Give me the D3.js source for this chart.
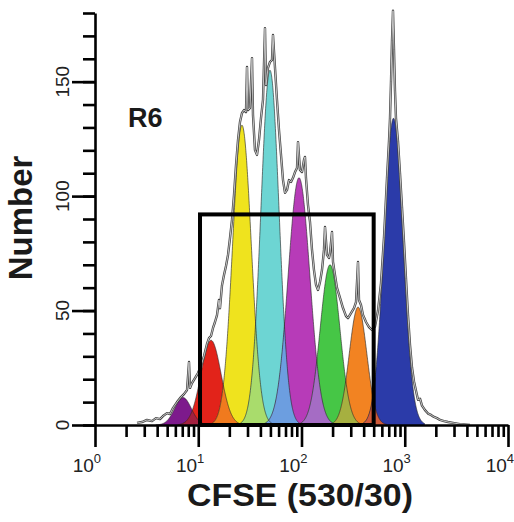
<!DOCTYPE html>
<html><head><meta charset="utf-8">
<script src="https://cdn.jsdelivr.net/npm/d3@7"></script>
<style>
body{margin:0;background:#fff}
svg{display:block}
text{font-family:Arial,"Liberation Sans",Helvetica,sans-serif}
</style>
</head><body>
<svg id="c" width="514" height="522"></svg>
<script>
// ---- data ----
const peakLabels  = ["G7","G6","G5","G4","G3","G2","G1","G0"];
const peakCenters = [7.12, 13.3, 26.5, 49.5, 94.6, 189, 353, 778];   // CFSE
const peakHeights = [12, 37, 131, 155, 108, 70, 51.5, 134];          // Number
const peakWidths  = [0.08, 0.097, 0.09, 0.088, 0.105, 0.095, 0.085, 0.092]; // sigma (log10 units)

const envX = [2.552,2.852,3.189,3.565,3.898,4.262,4.557,4.982,5.327,5.693,6.226,6.807,7.277,7.783,8.138,8.322,8.701,9.301,9.944,
  10.63,11.37,12.15,12.71,13.29,13.90,14.53,15.19,15.88,16.24,16.98,17.76,18.57,19.42,20.30,21.23,22.20,23.21,24.27,25.37,26.53,
  27.74,29.00,29.66,30.32,31.71,33.16,33.90,35.44,37.06,38.75,40.52,42.37,44.30,45.30,47.37,49.53,51.79,52.96,55.38,57.90,60.54,
  63.31,66.20,69.22,72.38,75.68,79.14,82.75,86.53,90.48,92.52,96.7,101.1,105.7,108.1,110.5,115.6,120.9,126.4,132.1,138.2,144.5,
  151.1,157.9,165.1,168.9,176.6,184.6,188.8,197.4,201.9,211.1,220.7,236.0,252.3,269.8,282.1,301.6,322.5,337.2,352.6,360.5,376.9,
  394.1,421.4,450.6,481.8,515.1,550.8,588.9,629.6,673.2,703.9,719.7,735.9,752.5,769.4,786.7,804.4,822.5,860.0,899.5,940.7,983.4,
  1028,1075,1124,1176,1229,1285,1344,1405,1469,1571,1680,1796,1920,2053,2195,2400,2624,2934,3429,4285];
const envY = [0.9,1.3,2.2,1.7,3,2.6,3.9,5.2,4.8,7.4,10,12.2,13.5,15.3,27.5,16.2,18.3,20.5,22.7,
  25.8,30.1,35.4,38,38.9,42.4,45,48,54.6,51,61,65.5,69.5,74.3,81.7,89.6,100.5,113.6,124.5,132.4,136.3,
  137.6,136.7,156.4,137.6,138.5,160.3,135.4,120.1,118,124.5,134.1,142,173.4,148.5,156,158.6,159.5,170.4,156,142,128.9,
  118,107,101.4,102.7,107,106.2,108,110.5,112.3,123.6,111.4,110.5,115.8,117.1,108,96.1,88.7,76.5,67.7,61.2,59,
  62.5,67.7,76.5,86.5,74.3,73,75.1,84.3,71.2,65.5,59.9,55.5,51.1,47.6,46.7,48.9,51.1,53.7,71.2,54.6,52.4,
  48.1,45,42.8,41.5,43,50,62,82,108,124,134,150,168,181,164,146,134,124,110,95,80,
  64,48,35,25,19,15,11,11.5,8.5,6.5,5,4.4,3.5,3,2.2,1.7,1.3,0.9,0.4,0];

const gateX = [10.4, 500];
const gateTop = 92;
const yMajor = [0, 50, 100, 150];
const xExps = [0, 1, 2, 3, 4];

// ---- styles ----
const peakColors = ["#7d1a8c","#e2231a","#efe31e","#6dd5d3","#b73bb8","#46c646","#f28322","#2b3ba9"];
const overlapColors = ["#a3203f","#f07a1e","#a9dc6c","#6c9ee0","#a56cc4","#a6b040","#cf5a3a"];

const svg = d3.select("#c");
const x = d3.scaleLog().domain([1, 1e4]).range([95, 508]);
const y = d3.scaleLinear().domain([0, 180]).range([425, 13]);

const K = 3.3;
function f(i, l){
  const k = (l - Math.log10(peakCenters[i])) / peakWidths[i];
  return Math.abs(k) > K ? 0 : peakHeights[i]*Math.exp(-0.5*k*k);
}
function peakPts(i){
  const c = Math.log10(peakCenters[i]), s = peakWidths[i];
  return d3.range(-K, K + 1e-9, 0.02).map(k => [Math.pow(10, c + k*s), f(i, c + k*s)]);
}
function overlapPts(i){
  const a = Math.max(Math.log10(peakCenters[i]) - K*peakWidths[i], Math.log10(peakCenters[i+1]) - K*peakWidths[i+1]);
  const b = Math.min(Math.log10(peakCenters[i]) + K*peakWidths[i], Math.log10(peakCenters[i+1]) + K*peakWidths[i+1]);
  if (b <= a) return [];
  return d3.range(a, b + 1e-9, (b - a)/200).map(l => [Math.pow(10, l), Math.min(f(i,l), f(i+1,l))]);
}
const area = d3.area().x(d=>x(d[0])).y0(y(0)).y1(d=>y(d[1]));
const line = d3.line().x(d=>x(d[0])).y(d=>y(d[1]));

const gFill = svg.append("g");
peakCenters.forEach((_, i) => {
  gFill.append("path").attr("d", area(peakPts(i))).attr("fill", peakColors[i]);
});
overlapColors.forEach((col, i) => {
  const p = overlapPts(i);
  if (p.length) gFill.append("path").attr("d", area(p)).attr("fill", col);
});
peakCenters.forEach((_, i) => {
  gFill.append("path").attr("d", line(peakPts(i))).attr("fill","none")
    .attr("stroke","#2a2a2a").attr("stroke-width",0.9).attr("stroke-opacity",0.7);
});

// raw histogram envelope
const env = envX.map((v,i)=>[v, envY[i]]);
const eline = d3.line().x(d=>x(d[0])).y(d=>y(d[1]));
svg.append("path").attr("d", eline(env)).attr("fill","none").attr("stroke","#444")
  .attr("stroke-width",2.4).attr("stroke-linejoin","round");
svg.append("path").attr("d", eline(env)).attr("fill","none").attr("stroke","#d0d0d0")
  .attr("stroke-width",0.9).attr("stroke-linejoin","round");

// gate
svg.append("rect").attr("x", x(gateX[0])).attr("y", y(gateTop))
  .attr("width", x(gateX[1]) - x(gateX[0])).attr("height", y(0) - y(gateTop))
  .attr("fill","none").attr("stroke","#000").attr("stroke-width",4);

// axes
const yMinor = d3.range(0, 181, 10);
const gy = svg.append("g").attr("transform","translate(95,0)");
gy.call(d3.axisLeft(y).tickValues(yMinor).tickSize(12).tickSizeOuter(0).tickFormat(""));
gy.append("g").call(d3.axisLeft(y).tickValues(yMajor).tickSize(23).tickSizeOuter(0).tickFormat(""));
gy.selectAll("path,line").attr("stroke","#000").attr("stroke-width",2.6);
gy.selectAll("g > g > path.domain").remove();
yMajor.forEach(v => {
  svg.append("text").attr("transform", `translate(69,${y(v)}) rotate(-90)`)
    .attr("text-anchor","middle").attr("font-size",19).attr("fill","#222").text(v);
});

const xMinor = [];
for (let e = 0; e < 4; e++) for (let k = 2; k <= 9; k++) xMinor.push(k*Math.pow(10,e));
const gx = svg.append("g").attr("transform","translate(0,425)");
gx.call(d3.axisBottom(x).tickValues(xMinor).tickSize(12).tickSizeOuter(0).tickFormat(""));
gx.append("g").call(d3.axisBottom(x).tickValues(xExps.map(e=>Math.pow(10,e))).tickSize(22).tickSizeOuter(0).tickFormat(""));
gx.selectAll("path,line").attr("stroke","#000").attr("stroke-width",2.6);
gx.selectAll("g > g > path.domain").remove();
xExps.forEach(e => {
  const t = svg.append("text").attr("x", x(Math.pow(10,e)) + 6).attr("y", 472)
    .attr("text-anchor","end").attr("font-size",19).attr("fill","#222");
  t.append("tspan").text("10");
  t.append("tspan").attr("dy",-9).attr("font-size",13).text(e);
});

// titles
svg.append("text").attr("x",300).attr("y",506).attr("text-anchor","middle")
  .attr("font-size",32).attr("font-weight","bold").attr("fill","#1a1a1a")
  .attr("textLength",226).attr("lengthAdjust","spacingAndGlyphs").text("CFSE (530/30)");
svg.append("text").attr("transform","translate(32,218) rotate(-90)").attr("text-anchor","middle")
  .attr("font-size",33).attr("font-weight","bold").attr("fill","#1a1a1a").text("Number");
svg.append("text").attr("x",128).attr("y",127).attr("font-size",27).attr("font-weight","bold")
  .attr("fill","#1a1a1a").text("R6");
</script>
</body></html>
